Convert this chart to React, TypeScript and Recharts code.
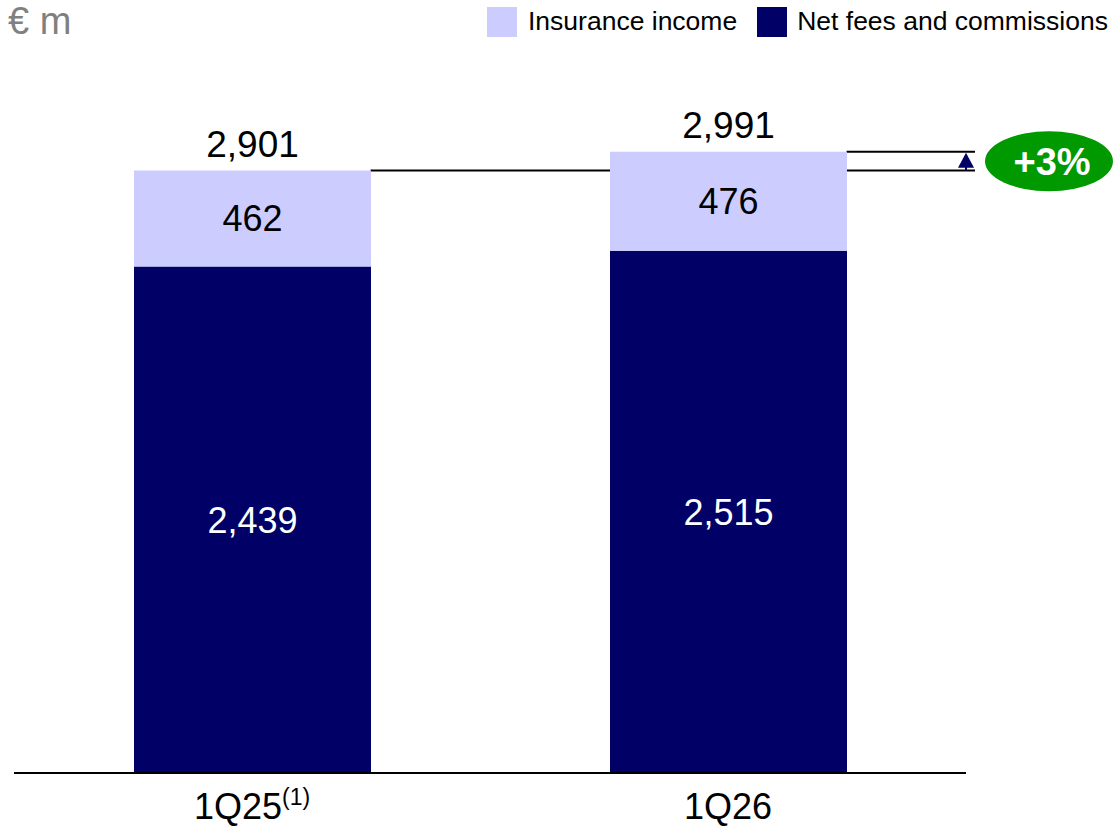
import React from 'react';
import { BarChart, Bar, XAxis, YAxis, LabelList, ReferenceArea } from 'recharts';

const categories = ['1Q25', '1Q26'];
const footnotes = ['(1)', ''];
const netFees = [2439, 2515];
const insurance = [462, 476];
const totals = [2901, 2991];
const growthLabel = '+3%';

const DARK = '#000066';
const LIGHT = '#ccccff';
const GREEN = '#009900';
const FONT = '"Liberation Sans", Arial, sans-serif';
const BAR_SIZE = 237;

const data = categories.map((name, i) => ({
  name,
  note: footnotes[i],
  fees: netFees[i],
  ins: insurance[i],
  total: totals[i],
}));

const fmt = (v: number) => v.toLocaleString('en-US');

const CategoryTick = (props: any) => {
  const { x, y, payload, index } = props;
  const note = footnotes[index] || '';
  return (
    <text x={x} y={y + 46} textAnchor="middle" fontSize={36} fill="#000" fontFamily={FONT}>
      {payload.value}
      {note && (
        <tspan fontSize={23} dy={-14}>{note}</tspan>
      )}
    </text>
  );
};

const TotalLabel = (props: any) => {
  const { x, y, width, value } = props;
  return (
    <text x={x + width / 2} y={y - 14} textAnchor="middle" fontSize={37} fill="#000" fontFamily={FONT}>
      {fmt(value)}
    </text>
  );
};

// lines + arrow + bubble between the two totals
const GrowthMarker = (props: any) => {
  const { x, y, width, height } = props;
  const band = width / categories.length;
  const right1 = x + band * 0.5 + BAR_SIZE / 2;
  const right2 = x + band * 1.5 + BAR_SIZE / 2;
  const end = x + width + 9;
  const ax = x + width;
  const yTop = y;
  const yBot = y + height;
  const mid = (yTop + yBot) / 2;
  return (
    <g>
      <line x1={right1} x2={end} y1={yBot} y2={yBot} stroke="#000" strokeWidth={2} />
      <line x1={right2} x2={end} y1={yTop} y2={yTop} stroke="#000" strokeWidth={2} />
      <line x1={ax} x2={ax} y1={yTop + 12} y2={yBot} stroke={DARK} strokeWidth={2} />
      <polygon points={`${ax},${yTop + 1} ${ax - 8},${yTop + 16} ${ax + 8},${yTop + 16}`} fill={DARK} />
      <ellipse cx={1049} cy={mid} rx={64} ry={30} fill={GREEN} />
      <text x={1052} y={mid + 14} textAnchor="middle" fontSize={38} fontWeight="bold" fill="#fff" fontFamily={FONT}>
        {growthLabel}
      </text>
    </g>
  );
};

export default function App() {
  return (
    <div style={{ position: 'absolute', left: 0, top: 0, width: 1113, height: 827, background: '#fff', fontFamily: FONT }}>
      <div style={{ position: 'absolute', left: 8, top: 0, fontSize: 38, color: '#808080' }}>€ m</div>
      <div style={{ position: 'absolute', left: 487, top: 6, display: 'flex', alignItems: 'center', fontSize: 26.5, color: '#000', whiteSpace: 'nowrap' }}>
        <span style={{ display: 'inline-block', width: 30, height: 30, background: LIGHT, marginRight: 11 }} />
        <span>Insurance income</span>
        <span style={{ display: 'inline-block', width: 30, height: 30, background: DARK, marginLeft: 20, marginRight: 10 }} />
        <span>Net fees and commissions</span>
      </div>
      <BarChart width={1113} height={827} data={data} margin={{ top: 150, right: 147, left: 14, bottom: 0 }}>
        <YAxis hide domain={[0, 3000]} />
        <XAxis
          dataKey="name"
          height={54}
          axisLine={{ stroke: '#000', strokeWidth: 2 }}
          tickLine={false}
          tickSize={0}
          tickMargin={0}
          tick={<CategoryTick />}
          interval={0}
        />
        <Bar dataKey="fees" stackId="a" fill={DARK} barSize={BAR_SIZE} isAnimationActive={false}>
          <LabelList dataKey="fees" position="center" formatter={(v: any) => fmt(v)} fill="#fff" fontSize={36} fontFamily={FONT} />
        </Bar>
        <Bar dataKey="ins" stackId="a" fill={LIGHT} barSize={BAR_SIZE} isAnimationActive={false}>
          <LabelList dataKey="ins" position="center" formatter={(v: any) => fmt(v)} fill="#000" fontSize={36} fontFamily={FONT} />
          <LabelList dataKey="total" content={<TotalLabel />} />
        </Bar>
        <ReferenceArea y1={totals[0]} y2={totals[1]} ifOverflow="visible" shape={<GrowthMarker />} />
      </BarChart>
    </div>
  );
}
